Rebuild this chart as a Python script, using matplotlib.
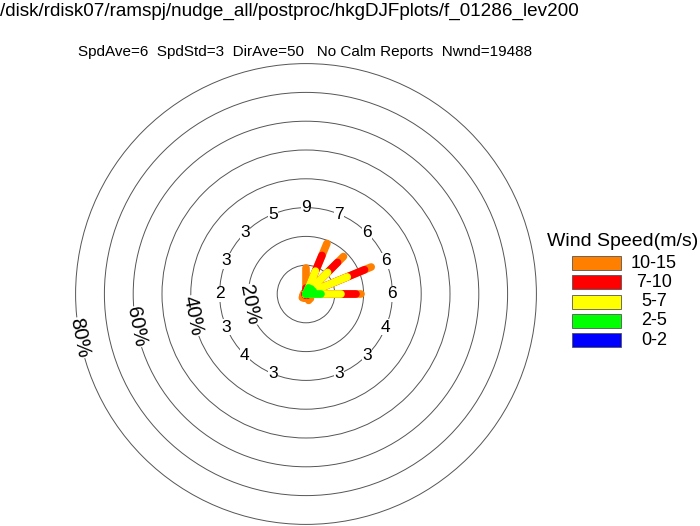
import numpy as np
import matplotlib
matplotlib.use('Agg')
import matplotlib.pyplot as plt
from matplotlib.patches import Circle, Rectangle

plt.rcParams['font.family'] = ['Liberation Sans', 'DejaVu Sans']

# 16 compass directions, clockwise from north
directions = np.arange(16) * 22.5
# cumulative percent frequency at the end of each speed class (0-2, 2-5, 5-7, 7-10, 10-15)
cum_02 = [0.0, 0.0, 0.0, 0.0, 0.0, 0.0, 0.0, 0.0, 0.0, 0.0, 0.0, 0.0, 0.0, 0.0, 0.0, 0.0]
cum_25 = [0.2, 2.3, 2.5, 2.7, 5.2, 0.1, 0.1, 0.0, 0.0, 0.0, 0.0, 0.0, 0.0, 0.0, 0.0, 0.0]
cum_57 = [0.4, 8.6, 10.6, 15.5, 12.1, 0.3, 0.2, 0.1, 0.1, 0.1, 0.1, 0.1, 0.0, 0.1, 0.1, 0.1]
cum_710 = [2.0, 14.5, 15.5, 22.0, 17.4, 0.6, 0.6, 0.5, 0.4, 0.4, 0.4, 0.3, 0.2, 0.3, 0.3, 0.3]
cum_1015 = [9.0, 19.0, 18.4, 24.5, 19.0, 1.6, 2.2, 2.4, 1.4, 1.6, 1.8, 1.2, 0.6, 0.8, 0.7, 0.8]
spd_ave = ['9', '7', '6', '6', '6', '4', '3', '3', '', '3', '4', '3', '2', '3', '3', '5']

speed_labels = ['10-15', '7-10', '5-7', '2-5', '0-2']
speed_colors = ['#ff8000', '#ff0000', '#ffff00', '#00ff00', '#0000ff']
rings = [10, 20, 30, 40, 50, 60, 70, 80]

W, H = 700, 526
cx, cy, scale = 306, 294, 2.88  # pixels, pixels per percent

fig = plt.figure(figsize=(7, 5.26), dpi=100)
ax = fig.add_axes([0, 0, 1, 1])
ax.set_xlim(-cx / scale, (W - cx) / scale)
ax.set_ylim(-(H - cy) / scale, cy / scale)
ax.set_aspect('equal')
ax.axis('off')

for r in rings:
    ax.add_patch(Circle((0, 0), r, fill=False, ec='#555555', lw=0.7))

# ring labels
ang = np.deg2rad(180 + 11)
for r in [20, 40, 60, 80]:
    ax.text(r * np.cos(ang), r * np.sin(ang), f'{r}%', rotation=-79,
            ha='center', va='center', fontsize=14.5,
            bbox=dict(fc='white', ec='none', pad=0.5))

# petals: draw longest class first, shorter ones on top
th = np.deg2rad(90 - directions)
for cum, col in zip([cum_1015, cum_710, cum_57, cum_25, cum_02], speed_colors):
    for t, v in zip(th, cum):
        if v > 0:
            ax.plot([0, v * np.cos(t)], [0, v * np.sin(t)], color=col, lw=5.5,
                    solid_capstyle='round')

# average speed labels on the 30% ring
for t, s in zip(th, spd_ave):
    ax.text(30 * np.cos(t), 30 * np.sin(t), s, ha='center', va='center',
            fontsize=12.5, bbox=dict(fc='white', ec='none', pad=0.3))

fig.text(0, 1 - 11 / H, '/disk/rdisk07/ramspj/nudge_all/postproc/hkgDJFplots/f_01286_lev200',
         ha='left', va='center', fontsize=13.6)
fig.text(305 / W, 1 - 52 / H,
         'SpdAve=6  SpdStd=3  DirAve=50   No Calm Reports  Nwnd=19488',
         ha='center', va='center', fontsize=11)

# legend
fig.text(623 / W, 1 - 241 / H, 'Wind Speed(m/s)', ha='center', va='center', fontsize=14)
for i, (lab, col) in enumerate(zip(speed_labels, speed_colors)):
    y = 256 + i * 19.3
    fig.patches.append(Rectangle((572 / W, 1 - (y + 14) / H), 49 / W, 14 / H,
                                 transform=fig.transFigure, fc=col, ec='#555555', lw=0.6))
    fig.text(654 / W, 1 - (y + 7) / H, lab, ha='center', va='center', fontsize=13)

fig.savefig('out.png', dpi=100)
